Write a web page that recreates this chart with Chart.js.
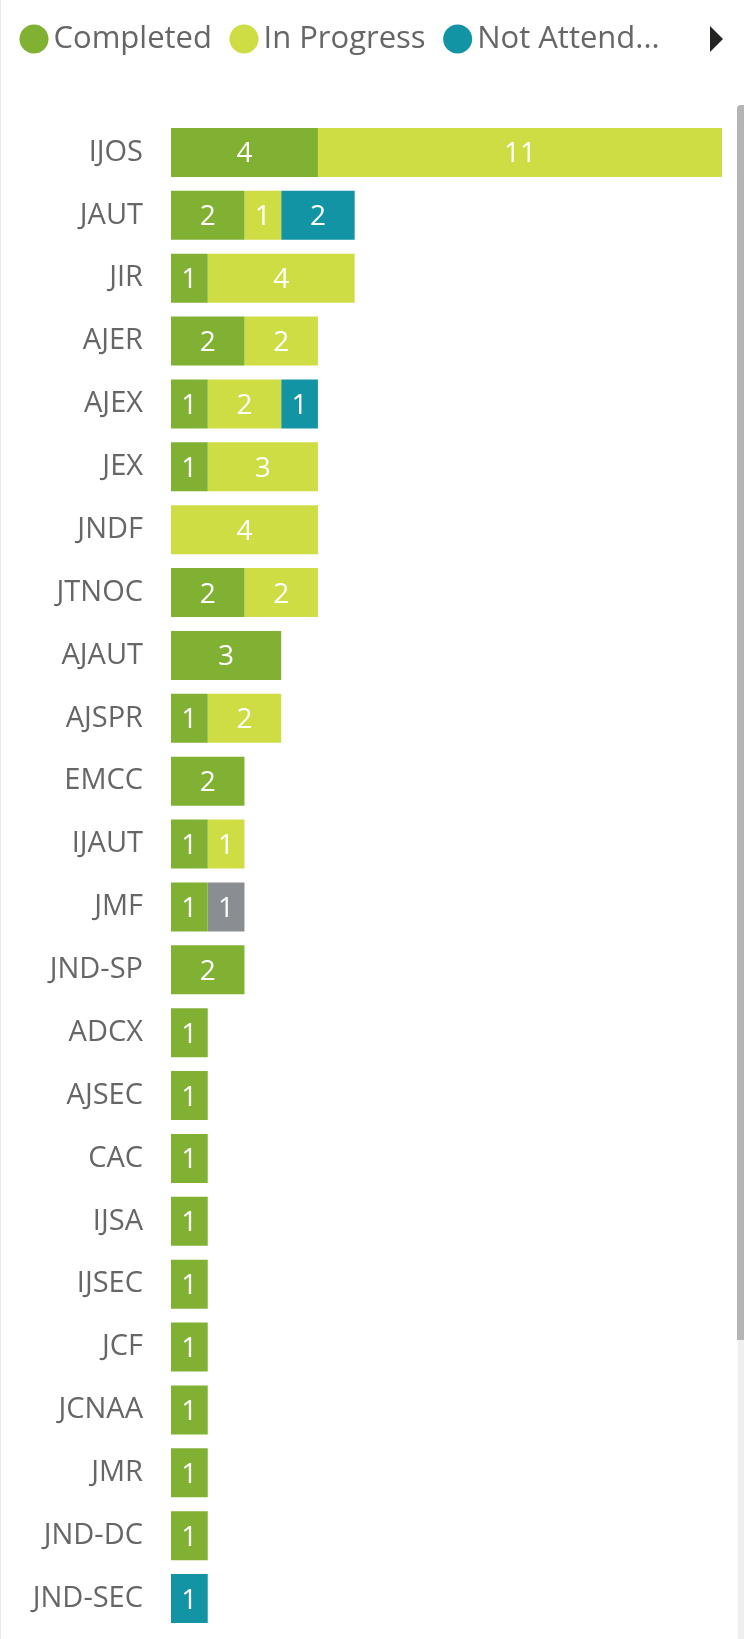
<!DOCTYPE html>
<html>
<head>
<meta charset="utf-8">
<script src="https://cdn.jsdelivr.net/npm/chart.js@4.4.1/dist/chart.umd.min.js"></script>
<style>
  html, body { margin: 0; padding: 0; background: #ffffff; overflow: hidden; }
  #wrap { position: relative; width: 744px; height: 1639px; background: #ffffff; }
  #leftEdge { position: absolute; left: 0; top: 0; width: 1px; height: 1639px; background: #e8e8e8; }
  #arrow { position: absolute; left: 710px; top: 26px; width: 0; height: 0;
           border-top: 13px solid transparent; border-bottom: 13px solid transparent;
           border-left: 13px solid #252423; }
  #thumb { position: absolute; left: 737px; top: 105px; width: 7px; height: 1235px;
           background: #b5b5b5; border-radius: 4px 0 0 0; }
  #track { position: absolute; left: 738px; top: 1340px; width: 6px; height: 299px; background: #efefef; }
  canvas { position: absolute; left: 0; top: 0; }
</style>
</head>
<body>
<div id="wrap">
  <canvas id="c" width="744" height="1639"></canvas>
  <div id="leftEdge"></div>
  <div id="arrow"></div>
  <div id="thumb"></div>
  <div id="track"></div>
</div>
<script>
const categories = ["IJOS","JAUT","JIR","AJER","AJEX","JEX","JNDF","JTNOC","AJAUT","AJSPR","EMCC","IJAUT","JMF","JND-SP","ADCX","AJSEC","CAC","IJSA","IJSEC","JCF","JCNAA","JMR","JND-DC","JND-SEC"];
const completed   = [4, 2, 1, 2, 1, 1, null, 2, 3, 1, 2, 1, 1, 2, 1, 1, 1, 1, 1, 1, 1, 1, 1, null];
const inProgress  = [11, 1, 4, 2, 2, 3, 4, 2, null, 2, null, 1, null, null, null, null, null, null, null, null, null, null, null, null];
const notAttended = [null, 2, null, null, 1, null, null, null, null, null, null, null, null, null, null, null, null, null, null, null, null, null, null, 1];
const otherStatus = [null, null, null, null, null, null, null, null, null, null, null, null, 1, null, null, null, null, null, null, null, null, null, null, null];
const seriesNames = ["Completed", "In Progress", "Not Attended", "Other"];
const seriesColors = ["#80b133", "#cfdd45", "#1294a4", "#8a8d91"];

const FONT = "'Open Sans', 'Noto Sans', sans-serif";

const valueLabels = {
  id: 'valueLabels',
  afterDatasetsDraw(chart) {
    const ctx = chart.ctx;
    ctx.save();
    ctx.font = "28px " + FONT;
    ctx.fillStyle = "#ffffff";
    ctx.textAlign = "center";
    ctx.textBaseline = "middle";
    chart.data.datasets.forEach((ds, di) => {
      const meta = chart.getDatasetMeta(di);
      if (meta.hidden) return;
      meta.data.forEach((el, i) => {
        const v = ds.data[i];
        if (v === null || v === undefined || v === 0) return;
        const cx = (el.x + el.base) / 2;
        ctx.fillText(String(v), cx, el.y + 2);
      });
    });
    ctx.restore();
  }
};

const legendHeight = {
  id: 'legendHeight',
  beforeInit(chart) {
    const origFit = chart.legend.fit;
    chart.legend.fit = function () {
      origFit.bind(chart.legend)();
      this.height = 125.5;
    };
  }
};

new Chart(document.getElementById('c'), {
  type: 'bar',
  data: {
    labels: categories,
    datasets: [
      { label: seriesNames[0], data: completed,   backgroundColor: seriesColors[0] },
      { label: seriesNames[1], data: inProgress,  backgroundColor: seriesColors[1] },
      { label: seriesNames[2], data: notAttended, backgroundColor: seriesColors[2] },
      { label: seriesNames[3], data: otherStatus, backgroundColor: seriesColors[3] }
    ]
  },
  options: {
    indexAxis: 'y',
    responsive: false,
    animation: false,
    layout: { padding: { top: -4.5, left: 2, right: 22, bottom: 9 } },
    datasets: { bar: { barPercentage: 0.78, categoryPercentage: 1, borderWidth: 0 } },
    plugins: {
      tooltip: { enabled: false },
      legend: {
        position: 'top',
        align: 'start',
        labels: {
          usePointStyle: true,
          pointStyle: 'circle',
          boxWidth: 8,
          boxHeight: 20.5,
          padding: 28,
          color: '#666666',
          font: { family: FONT, size: 31 },
          generateLabels(chart) {
            const items = Chart.defaults.plugins.legend.labels.generateLabels(chart);
            return items
              .filter(it => it.datasetIndex < 3)
              .map(it => {
                if (it.text.length > 11) it.text = it.text.slice(0, 10) + '...';
                it.lineWidth = 0;
                it.strokeStyle = 'rgba(0,0,0,0)';
                return it;
              });
          }
        }
      }
    },
    scales: {
      x: {
        stacked: true,
        display: false,
        min: 0,
        max: 15
      },
      y: {
        stacked: true,
        grid: { display: false, drawTicks: false },
        border: { display: false },
        ticks: {
          color: '#666666',
          padding: 28,
          autoSkip: false,
          font: { family: FONT, size: 29 }
        },
        afterFit(scale) {
          scale.width = 169;
          scale.paddingTop = 0;
          scale.paddingBottom = 0;
        }
      }
    }
  },
  plugins: [valueLabels, legendHeight]
});
</script>
</body>
</html>
